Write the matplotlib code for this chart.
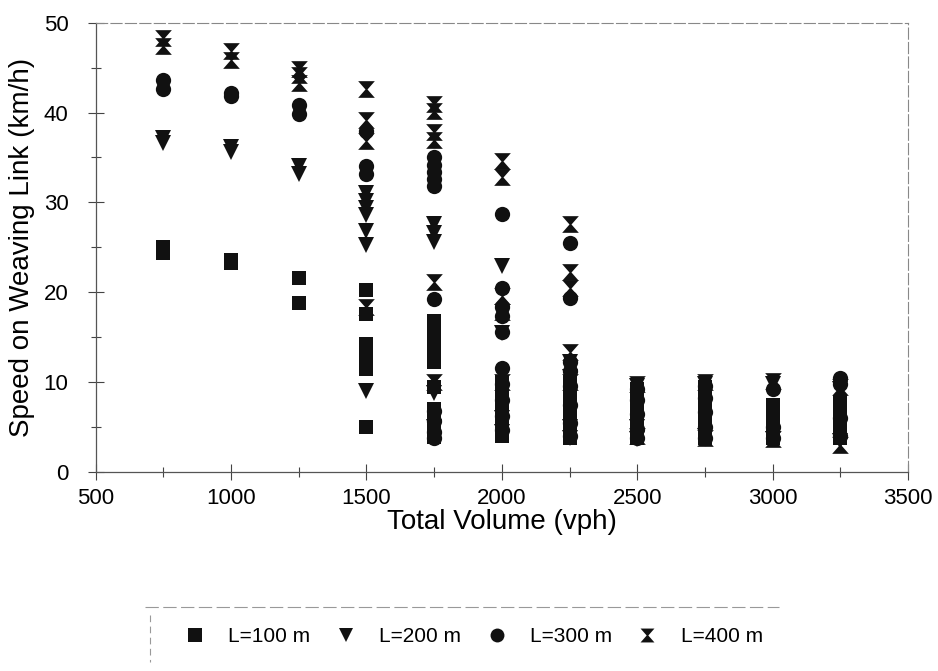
import matplotlib
matplotlib.use("Agg")
import matplotlib.pyplot as plt
from matplotlib.ticker import MultipleLocator
from matplotlib.lines import Line2D

plt.rcParams['font.family'] = ['Liberation Sans', 'DejaVu Sans']

# total volume groups (vph)
volumes = [750, 1000, 1250, 1500, 1750, 2000, 2250, 2500, 2750, 3000, 3250]

# speed on weaving link (km/h), one list per volume group
speed_L100 = [
    [24.4, 25.0],
    [23.2, 23.6],
    [21.6, 18.8],
    [20.2, 17.6, 14.2, 13.2, 12.0, 11.4, 5.0],
    [16.8, 16.0, 15.2, 14.4, 13.6, 12.8, 12.2, 9.4, 7.0, 6.4, 5.6, 5.0, 4.4, 3.9],
    [10.0, 9.2, 8.4, 7.6, 6.8, 6.0, 5.2, 4.6, 4.0],
    [10.0, 9.2, 8.4, 7.6, 6.8, 6.0, 5.2, 4.4, 3.8],
    [9.2, 8.4, 7.6, 6.8, 6.0, 5.2, 4.4, 3.8],
    [9.4, 8.6, 7.8, 7.0, 6.2, 5.4, 4.6, 3.8],
    [7.4, 6.0, 5.2, 4.5, 3.8],
    [7.8, 6.2, 5.4, 4.6, 3.8],
]
speed_L200 = [
    [36.6, 37.2],
    [35.6, 36.2],
    [33.2, 34.0],
    [31.0, 30.2, 29.4, 28.6, 26.8, 25.2, 9.0],
    [27.6, 26.6, 25.6, 8.8, 5.0],
    [22.9, 15.4, 6.0, 4.4],
    [12.2, 10.6, 5.0, 3.8],
    [9.6, 5.0, 3.6],
    [9.8, 4.0],
    [9.8, 3.6],
    [9.2, 3.4],
]
speed_L300 = [
    [42.6, 43.6],
    [41.8, 42.2],
    [39.8, 40.8],
    [37.9, 34.0, 33.2],
    [35.0, 34.2, 33.4, 32.6, 31.8, 19.2, 6.8, 5.6, 4.4, 3.8],
    [28.7, 20.5, 18.4, 17.3, 15.6, 11.6, 9.8, 8.0, 6.2, 4.6],
    [25.5, 19.4, 12.2, 11.2, 9.6, 7.4, 5.4, 4.0],
    [9.2, 8.0, 6.4, 4.8, 3.8],
    [9.6, 8.2, 6.6, 5.0, 3.8],
    [9.2, 5.0, 3.8],
    [10.4, 9.8, 6.0, 4.0],
]
speed_L400 = [
    [48.3, 47.4],
    [46.9, 45.9],
    [44.8, 44.2, 43.3],
    [42.6, 39.2, 36.8, 18.3],
    [41.0, 40.2, 37.8, 37.0, 21.1, 10.0],
    [34.6, 32.8, 19.6, 17.8, 10.0],
    [27.6, 22.2, 20.5, 13.3, 10.0],
    [9.8, 4.0],
    [10.0, 3.8],
    [10.1, 3.6],
    [9.4, 3.0],
]

series_names = ["L=100 m", "L=200 m", "L=300 m", "L=400 m"]

# hourglass marker
hourglass = [(-1, 1), (1, 1), (0.12, 0), (1, -1), (-1, -1), (-0.12, 0), (-1, 1)]
marker_styles = [('s', 10.5), ('v', 12), ('o', 11), (hourglass, 12)]


def flatten(groups):
    xs, ys = [], []
    for v, speeds in zip(volumes, groups):
        for s in speeds:
            xs.append(v)
            ys.append(s)
    return xs, ys


fig = plt.figure(figsize=(9.38, 6.71), dpi=100)
ax = fig.add_axes([0.102, 0.297, 0.866, 0.669])

all_series = [speed_L100, speed_L200, speed_L300, speed_L400]
for groups, (mk, ms), name in zip(all_series, marker_styles, series_names):
    xs, ys = flatten(groups)
    ax.plot(xs, ys, linestyle='none', marker=mk, markersize=ms,
            color='#111111', markeredgewidth=0, label=name)

ax.set_xlim(500, 3500)
ax.set_ylim(0, 50)
ax.xaxis.set_major_locator(MultipleLocator(500))
ax.xaxis.set_minor_locator(MultipleLocator(250))
ax.yaxis.set_major_locator(MultipleLocator(10))
ax.yaxis.set_minor_locator(MultipleLocator(5))
ax.tick_params(which='major', direction='inout', length=11, width=0.8,
               color='#444444', labelsize=16, pad=6)
ax.tick_params(which='minor', direction='inout', length=7, width=0.8,
               color='#444444')
ax.tick_params(axis='y', which='major', pad=14)

for side in ['left', 'bottom']:
    ax.spines[side].set_color('#555555')
    ax.spines[side].set_linewidth(0.9)
for side in ['top', 'right']:
    ax.spines[side].set_color('#888888')
    ax.spines[side].set_linewidth(0.8)
    ax.spines[side].set_linestyle((0, (10, 3)))

ax.set_xlabel("Total Volume (vph)", fontsize=20, labelpad=0)
ax.set_ylabel("Speed on Weaving Link (km/h)", fontsize=20, labelpad=6)

# legend below the plot, with a faint partial frame
leg = fig.legend(loc='center', bbox_to_anchor=(0.505, 0.051), ncol=4,
                 frameon=False, fontsize=15, handlelength=1.0,
                 handletextpad=1.1, columnspacing=1.2)
for h in leg.legend_handles:
    h.set_markersize(10)
fig.add_artist(Line2D([0.155, 0.83], [0.095, 0.095], transform=fig.transFigure,
                      color='#999999', linewidth=0.8, linestyle=(0, (12, 4))))
fig.add_artist(Line2D([0.16, 0.16], [0.083, 0.013], transform=fig.transFigure,
                      color='#999999', linewidth=0.8, linestyle=(0, (6, 4))))

fig.savefig("out.png", dpi=100)
